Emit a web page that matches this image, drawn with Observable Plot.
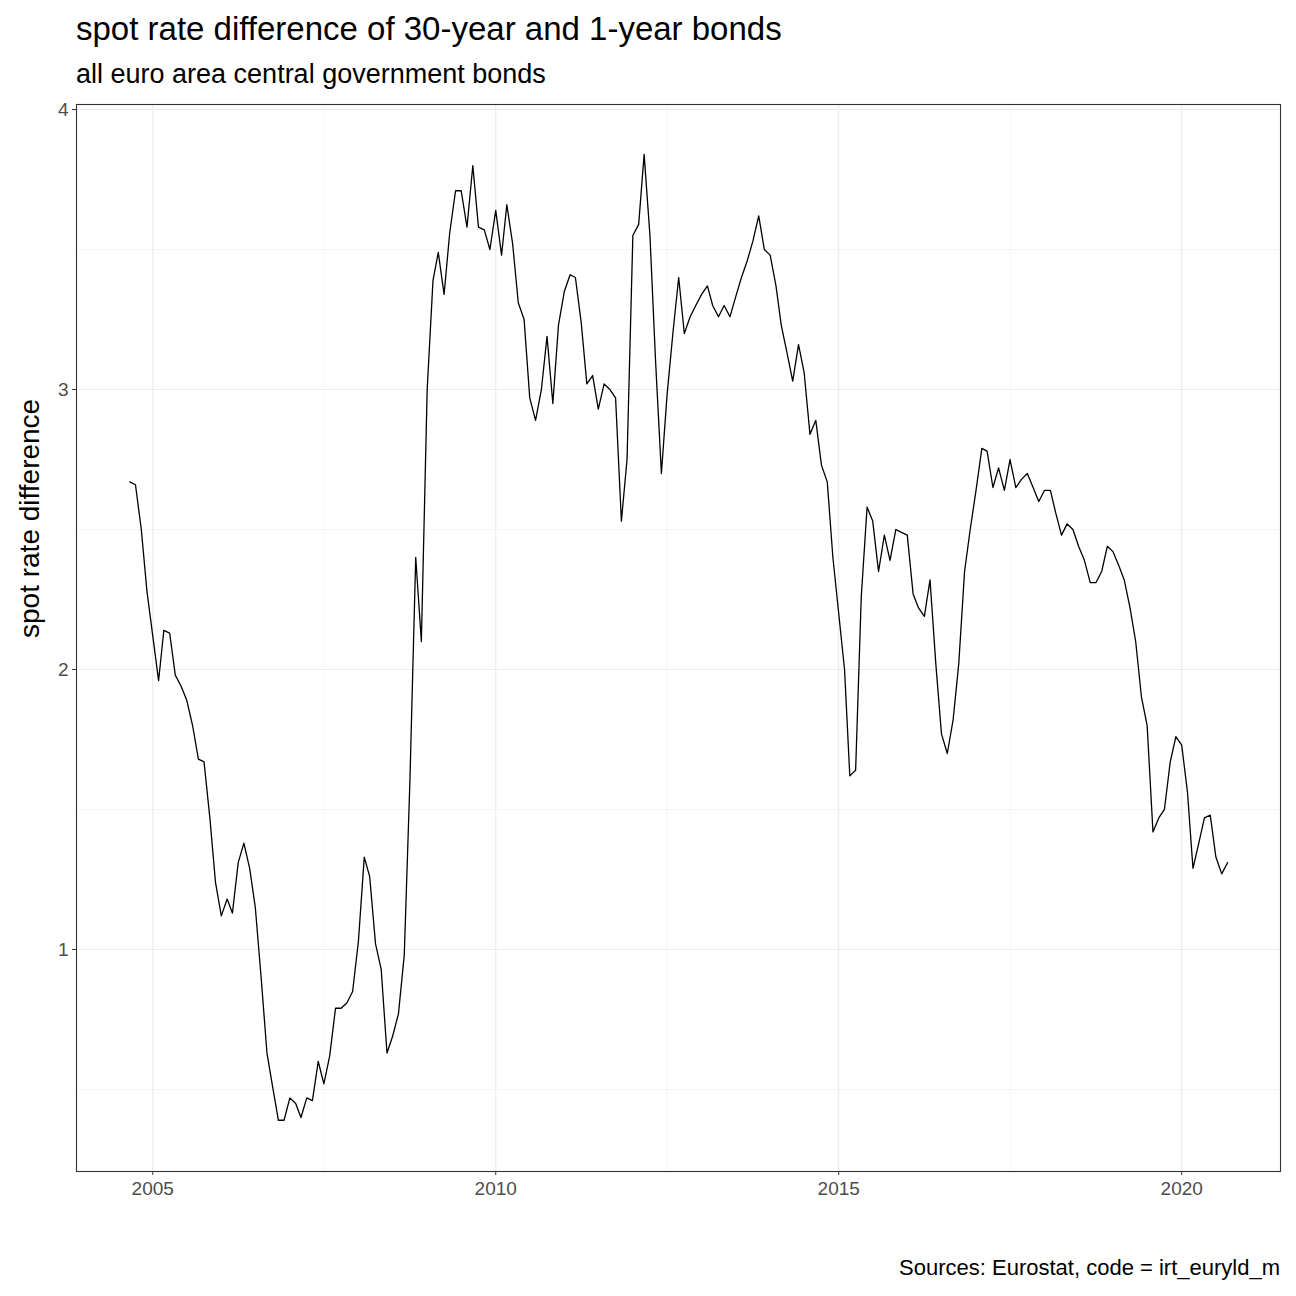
<!DOCTYPE html>
<html>
<head>
<meta charset="utf-8">
<script src="https://cdn.jsdelivr.net/npm/d3@7"></script>
<script src="https://cdn.jsdelivr.net/npm/@observablehq/plot@0.6"></script>
<style>
  body { margin: 0; background: white; font-family: "Liberation Sans", Arial, sans-serif; }
  #title { position: absolute; left: 76px; top: 10px; font-size: 33px; color: #000; }
  #subtitle { position: absolute; left: 76px; top: 59px; font-size: 27px; color: #000; }
  #chart { position: absolute; left: 0; top: 94px; }
  #caption { position: absolute; right: 16px; top: 1255px; font-size: 22px; color: #000; }
</style>
</head>
<body>
<div id="title">spot rate difference of 30-year and 1-year bonds</div>
<div id="subtitle">all euro area central government bonds</div>
<div id="chart"></div>
<div id="caption">Sources: Eurostat, code = irt_euryld_m</div>
<script>
// monthly values starting September 2004
const startYear = 2004, startMonth = 8;
const values = [
  2.67, 2.66, 2.50, 2.28,
  2.12, 1.96, 2.14, 2.13, 1.98, 1.94, 1.89, 1.80, 1.68, 1.67, 1.47, 1.24,
  1.12, 1.18, 1.13, 1.31, 1.38, 1.29, 1.15, 0.90, 0.63, 0.51, 0.39, 0.39,
  0.47, 0.45, 0.40, 0.47, 0.46, 0.60, 0.52, 0.62, 0.79, 0.79, 0.81, 0.85,
  1.03, 1.33, 1.26, 1.02, 0.93, 0.63, 0.69, 0.77, 0.98, 1.60, 2.40, 2.10,
  3.00, 3.39, 3.49, 3.34, 3.56, 3.71, 3.71, 3.58, 3.80, 3.58, 3.57, 3.50,
  3.64, 3.48, 3.66, 3.52, 3.31, 3.25, 2.97, 2.89, 3.00, 3.19, 2.95, 3.23,
  3.35, 3.41, 3.40, 3.24, 3.02, 3.05, 2.93, 3.02, 3.00, 2.97, 2.53, 2.75,
  3.55, 3.59, 3.84, 3.55, 3.10, 2.70, 2.98, 3.20, 3.40, 3.20, 3.26, 3.30,
  3.34, 3.37, 3.30, 3.26, 3.30, 3.26, 3.33, 3.40, 3.46, 3.53, 3.62, 3.50,
  3.48, 3.37, 3.23, 3.13, 3.03, 3.16, 3.06, 2.84, 2.89, 2.73, 2.67, 2.40,
  2.20, 2.00, 1.62, 1.64, 2.26, 2.58, 2.53, 2.35, 2.48, 2.39, 2.50, 2.49,
  2.48, 2.27, 2.22, 2.19, 2.32, 2.02, 1.77, 1.70, 1.82, 2.02, 2.35, 2.50,
  2.64, 2.79, 2.78, 2.65, 2.72, 2.64, 2.75, 2.65, 2.68, 2.70, 2.65, 2.60,
  2.64, 2.64, 2.56, 2.48, 2.52, 2.50, 2.44, 2.39, 2.31, 2.31, 2.35, 2.44,
  2.42, 2.37, 2.32, 2.22, 2.10, 1.90, 1.80, 1.42, 1.47, 1.50, 1.67, 1.76,
  1.73, 1.56, 1.29, 1.38, 1.47, 1.48, 1.33, 1.27, 1.31
];
const yTicks = [1, 2, 3, 4];
const yMinor = [0.5, 1.5, 2.5, 3.5];
const xTickYears = [2005, 2010, 2015, 2020];
const xMinorYears = [2002.5, 2007.5, 2012.5, 2017.5];

const data = values.map((v, i) => ({date: new Date(startYear, startMonth + i, 1), value: v}));
const yearDate = y => new Date(Math.floor(y), Math.round((y % 1) * 12), 1);

const chart = Plot.plot({
  width: 1296,
  height: 1132,
  marginLeft: 76,
  marginRight: 16,
  marginTop: 10,
  marginBottom: 55,
  style: {fontFamily: "Liberation Sans, Arial, sans-serif", fontSize: "19px", color: "#4d4d4d"},
  x: {type: "time", domain: [new Date(2003, 10, 22), new Date(2021, 5, 10)], label: null},
  y: {domain: [0.207, 4.018], label: null},
  marks: [
    Plot.ruleY(yMinor, {stroke: "#f2f2f2", strokeWidth: 0.8}),
    Plot.ruleX(xMinorYears.map(yearDate), {stroke: "#f2f2f2", strokeWidth: 0.8}),
    Plot.ruleY(yTicks, {stroke: "#ebebeb", strokeWidth: 1.1}),
    Plot.ruleX(xTickYears.map(yearDate), {stroke: "#ebebeb", strokeWidth: 1.1}),
    Plot.axisY(yTicks, {tickSize: 4, tickPadding: 4, fontSize: 19, stroke: "#333", fill: "#4d4d4d", tickFormat: d3.format("d"), label: null}),
    Plot.axisX(xTickYears.map(yearDate), {tickSize: 4, tickPadding: 6, fontSize: 19, stroke: "#333", fill: "#4d4d4d", tickFormat: d3.timeFormat("%Y"), label: null}),
    Plot.frame({stroke: "#333", strokeWidth: 1.1}),
    Plot.line(data, {x: "date", y: "value", stroke: "black", strokeWidth: 1.3}),
    Plot.text(["spot rate difference"], {frameAnchor: "left", dx: -46, rotate: -90, fontSize: 28, fill: "black"})
  ]
});
document.getElementById("chart").append(chart);
</script>
</body>
</html>
